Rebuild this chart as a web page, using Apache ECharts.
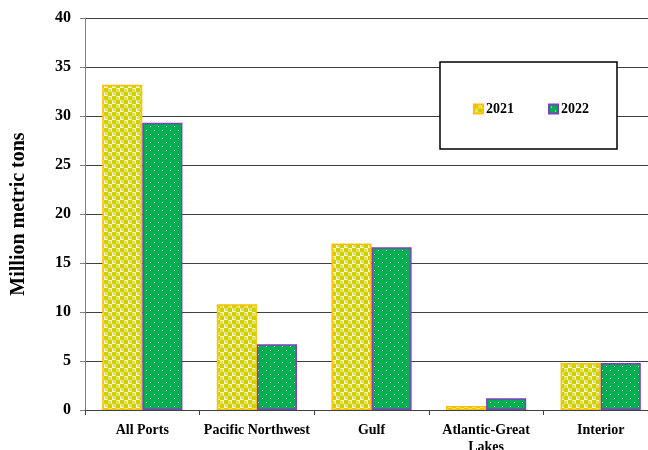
<!DOCTYPE html>
<html><head><meta charset="utf-8">
<script src="https://cdn.jsdelivr.net/npm/echarts@6/dist/echarts.min.js"></script>
<style>html,body{margin:0;padding:0;background:#fff}#c{width:648px;height:450px}</style>
</head><body><div id="c"></div>
<script>
const categories = ["All Ports", "Pacific Northwest", "Gulf", "Atlantic-Great\nLakes", "Interior"];
const values2021 = [33.2, 10.8, 17.0, 0.4, 4.8];
const values2022 = [29.3, 6.7, 16.6, 1.2, 4.8];
const seriesNames = ["2021", "2022"];
const yTicks = [0, 5, 10, 15, 20, 25, 30, 35, 40];

function pat2021() {
  const c = document.createElement('canvas'); c.width = 8; c.height = 8;
  const g = c.getContext('2d');
  g.fillStyle = '#ffffff'; g.fillRect(0, 0, 8, 8);
  g.fillStyle = '#d0d000';
  [[2, 2], [6, 6]].forEach(p => { g.beginPath(); g.arc(p[0], p[1], 2.7, 0, Math.PI * 2); g.fill(); });
  g.fillStyle = '#e4e450';
  [[6, 2], [2, 6]].forEach(p => { g.beginPath(); g.arc(p[0], p[1], 1.3, 0, Math.PI * 2); g.fill(); });
  return c;
}
function pat2022() {
  const c = document.createElement('canvas'); c.width = 8; c.height = 8;
  const g = c.getContext('2d');
  g.fillStyle = '#00b050'; g.fillRect(0, 0, 8, 8);
  g.fillStyle = '#e8fff0';
  g.fillRect(2, 2, 1, 1); g.fillRect(6, 6, 1, 1);
  return c;
}

const font = '"Liberation Serif", "Times New Roman", serif';
const chart = echarts.init(document.getElementById('c'));
chart.setOption({
  animation: false,
  grid: { left: 85, right: -10, top: 18, bottom: 40, outerBoundsMode: 'none', containLabel: false },
  graphic: [{
    type: 'rect', z: 3, shape: { x: 440, y: 62, width: 177, height: 87 },
    style: { fill: '#fff', stroke: '#000', lineWidth: 1.5 }
  }],
  legend: {
    z: 5, left: 468, top: 97, itemGap: 34, itemWidth: 9, itemHeight: 9, icon: 'rect',
    data: seriesNames,
    textStyle: { fontFamily: font, fontWeight: 'bold', fontSize: 14, color: '#000', padding: [0, 0, 0, -2] }
  },
  xAxis: {
    type: 'category', data: categories,
    axisLine: { lineStyle: { color: '#404040', width: 1 } },
    axisTick: { show: true, length: 5, lineStyle: { color: '#404040' } },
    axisLabel: { fontFamily: font, fontWeight: 'bold', fontSize: 14, color: '#000', margin: 12, lineHeight: 17, interval: 0 }
  },
  yAxis: {
    type: 'value', min: 0, max: 40, interval: 5,
    name: 'Million metric tons', nameLocation: 'middle', nameGap: 56,
    nameTextStyle: { fontFamily: font, fontWeight: 'bold', fontSize: 20, color: '#000' },
    axisLine: { show: true, lineStyle: { color: '#808080' } },
    axisTick: { show: true, length: 5, lineStyle: { color: '#808080' } },
    axisLabel: { fontFamily: font, fontWeight: 'bold', fontSize: 16, color: '#000', margin: 14 },
    splitLine: { lineStyle: { color: '#404040', width: 1 } }
  },
  series: [
    { name: seriesNames[0], type: 'bar', data: values2021, barGap: '0%', barCategoryGap: '30%',
      itemStyle: { color: { image: pat2021(), repeat: 'repeat' }, borderColor: '#ffc000', borderWidth: 1.5 } },
    { name: seriesNames[1], type: 'bar', data: values2022,
      itemStyle: { color: { image: pat2022(), repeat: 'repeat' }, borderColor: '#7f3fbf', borderWidth: 1.5 } }
  ]
});
</script></body></html>
